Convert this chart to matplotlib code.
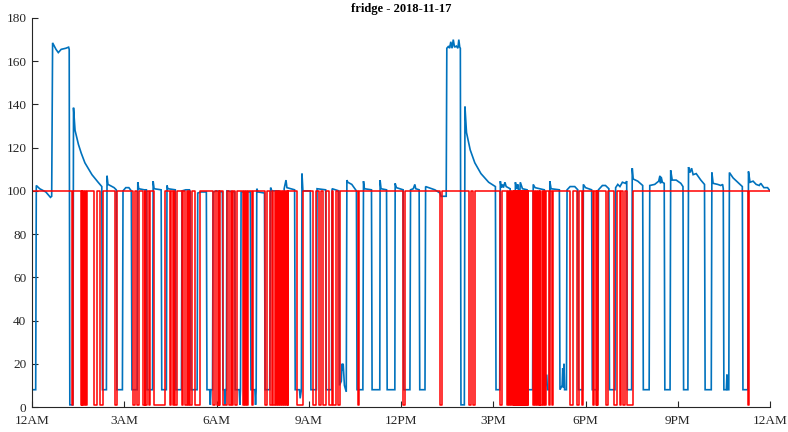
import matplotlib
matplotlib.use("Agg")
import matplotlib.pyplot as plt

# ---- data (hours of day, watts) ----
blue_points = [
    (0.00, 8), (0.12, 8),
    (0.14, 102.5), (0.25, 101), (0.45, 99.5), (0.60, 97), (0.64, 97.5),
    (0.67, 168.5), (0.78, 165.5), (0.855, 164), (0.95, 165.5), (1.10, 166), (1.19, 166.5), (1.21, 165.5),
    (1.23, 1), (1.33, 1),
    (1.35, 138.5), (1.40, 128), (1.51, 121.5), (1.60, 117.5), (1.72, 113), (1.95, 107.5), (2.15, 104), (2.27, 102),
    (2.29, 8), (2.42, 8),
    (2.44, 107), (2.47, 103), (2.54, 102.5), (2.67, 101.5), (2.74, 100.5),
    (2.76, 8), (2.94, 8),
    (2.96, 100), (3.05, 101.5), (3.15, 101.5), (3.23, 100),
    (3.25, 8), (3.42, 8),
    (3.44, 104), (3.47, 101), (3.65, 100.5), (3.72, 100.5),
    (3.74, 8), (3.92, 8),
    (3.94, 104.5), (3.97, 101), (4.20, 100.5),
    (4.22, 8), (4.37, 8),
    (4.39, 102.5), (4.42, 101), (4.66, 100.5),
    (4.68, 8), (4.86, 8),
    (4.88, 100), (5.00, 100.5), (5.12, 100.5), (5.15, 99.5),
    (5.17, 8), (5.37, 8),
    (5.39, 99), (5.50, 99.5), (5.67, 99.5),
    (5.69, 8), (5.78, 8), (5.80, 1), (5.82, 8), (5.87, 8),
    (5.89, 99.5), (6.00, 100), (6.19, 99.5),
    (6.21, 8), (6.26, 8), (6.28, 1), (6.30, 8), (6.32, 8),
    (6.34, 100), (6.59, 99.5),
    (6.61, 8), (6.74, 8), (6.76, 1), (6.78, 8),
    (6.80, 99.5), (7.10, 99.5),
    (7.12, 8), (7.25, 8), (7.27, 1), (7.29, 8),
    (7.31, 101), (7.35, 99.5), (7.56, 99),
    (7.58, 8), (7.73, 8),
    (7.76, 101.5), (7.80, 100), (8.03, 100),
    (8.05, 8), (8.14, 8), (8.16, 4), (8.18, 8),
    (8.20, 101), (8.26, 105), (8.29, 101.5), (8.54, 100.5),
    (8.56, 8), (8.70, 8), (8.72, 4), (8.76, 8),
    (8.78, 108), (8.81, 100), (9.05, 100),
    (9.07, 8), (9.25, 8),
    (9.27, 101), (9.55, 100.5),
    (9.57, 8), (9.74, 8),
    (9.76, 101), (9.98, 100),
    (10.00, 10), (10.06, 12), (10.08, 20), (10.10, 17), (10.12, 20), (10.16, 10), (10.22, 7),
    (10.24, 105), (10.27, 104), (10.40, 103), (10.50, 101), (10.55, 100),
    (10.57, 8), (10.76, 8),
    (10.78, 104.5), (10.81, 101), (11.04, 100.5),
    (11.06, 8), (11.31, 8),
    (11.32, 105), (11.35, 101), (11.53, 100.5),
    (11.55, 8), (11.80, 8),
    (11.81, 103.5), (11.85, 101.5), (12.07, 100.5),
    (12.09, 8), (12.29, 8),
    (12.31, 100.5), (12.40, 101), (12.45, 103), (12.48, 101), (12.59, 100.5),
    (12.61, 8), (12.78, 8),
    (12.80, 102), (12.90, 101.5), (13.10, 100.5), (13.27, 99), (13.30, 97.5), (13.47, 97.5),
    (13.49, 166), (13.55, 167), (13.58, 166), (13.62, 169), (13.66, 166), (13.70, 170), (13.74, 166.5),
    (13.80, 167), (13.85, 166), (13.88, 170), (13.91, 166.5), (13.93, 166),
    (13.95, 1), (14.06, 1),
    (14.08, 139), (14.13, 127), (14.25, 119), (14.40, 113), (14.60, 108), (14.85, 104), (15.07, 102),
    (15.09, 8), (15.21, 8),
    (15.23, 104.5), (15.26, 101.5), (15.30, 103), (15.33, 101.5), (15.38, 104), (15.42, 102), (15.55, 101),
    (15.57, 8), (15.70, 8),
    (15.72, 104), (15.76, 101), (15.80, 103), (15.85, 95), (15.88, 104), (15.95, 101), (16.10, 100.5),
    (16.12, 8), (16.28, 8),
    (16.30, 103), (16.36, 101.5), (16.66, 100.5),
    (16.68, 8), (16.74, 15), (16.76, 8), (16.82, 8),
    (16.84, 104.5), (16.88, 101), (17.15, 100.5),
    (17.17, 8), (17.24, 10), (17.26, 18), (17.28, 9), (17.30, 20), (17.32, 8), (17.38, 8),
    (17.40, 100.5), (17.50, 102), (17.65, 102), (17.75, 100.5),
    (17.77, 8), (17.91, 8),
    (17.93, 103), (18.00, 101.5), (18.20, 100.5),
    (18.22, 8), (18.40, 8),
    (18.42, 100.5), (18.55, 102.5), (18.65, 102.5), (18.76, 101),
    (18.78, 8), (18.96, 8),
    (18.98, 101.5), (19.05, 103), (19.12, 102), (19.20, 104), (19.30, 103.5), (19.34, 104.5),
    (19.36, 8), (19.50, 8),
    (19.52, 110.5), (19.55, 105.5), (19.70, 104.5), (19.86, 102.5),
    (19.88, 8), (20.07, 8),
    (20.09, 102.5), (20.25, 103), (20.38, 104.5), (20.42, 107), (20.44, 103.5), (20.46, 106.5), (20.50, 104), (20.56, 103.5),
    (20.58, 8), (20.75, 8),
    (20.77, 109.5), (20.82, 105), (20.95, 105), (21.10, 103.5), (21.17, 102),
    (21.19, 8), (21.33, 8),
    (21.35, 111), (21.40, 108.5), (21.45, 110.5), (21.50, 107.5), (21.60, 108), (21.75, 105), (21.87, 103),
    (21.89, 8), (22.09, 8),
    (22.11, 108.5), (22.15, 103.5), (22.30, 103), (22.40, 102.5), (22.46, 103), (22.48, 101),
    (22.50, 8), (22.58, 8), (22.60, 15), (22.62, 8), (22.66, 8),
    (22.68, 108.5), (22.80, 106), (22.95, 104), (23.10, 102),
    (23.12, 8), (23.28, 8),
    (23.30, 109), (23.35, 104), (23.45, 104.5), (23.55, 103), (23.65, 102.5), (23.70, 103.5),
    (23.80, 101.5), (23.92, 101.5), (24.00, 100),
]
blue_hours = [p[0] for p in blue_points]
blue_watts = [p[1] for p in blue_points]

red_high = 100
red_low = 1
red_off_intervals = [
    (1.29, 1.34),
    (1.59, 1.62), (1.64, 1.67), (1.70, 1.72), (1.76, 1.79),
    (2.03, 2.10), (2.21, 2.30), (2.70, 2.77),
    (3.28, 3.35), (3.42, 3.49), (3.62, 3.66), (3.69, 3.73), (3.79, 3.84),
    (3.97, 4.33),
    (4.49, 4.53), (4.58, 4.62), (4.66, 4.70),
    (4.87, 4.92), (4.98, 5.03), (5.08, 5.12), (5.15, 5.19),
    (5.30, 5.46),
    (5.90, 5.95), (6.02, 6.07), (6.09, 6.12),
    (6.22, 6.33), (6.42, 6.46), (6.50, 6.55), (6.60, 6.68),
    (6.85, 6.89), (6.93, 6.97), (7.00, 7.04), (7.14, 7.20),
    (7.58, 7.63), (7.74, 7.79), (7.85, 7.90), (7.92, 7.96),
    (8.01, 8.04), (8.07, 8.10), (8.13, 8.16), (8.19, 8.22), (8.25, 8.28), (8.31, 8.34),
    (8.63, 8.80),
    (9.15, 9.24), (9.34, 9.40), (9.47, 9.56), (9.67, 9.75), (9.80, 9.89), (9.96, 10.02),
    (10.60, 10.62),
    (12.05, 12.13), (13.27, 13.32),
    (14.21, 14.27), (14.35, 14.42), (15.22, 15.27),
    (15.44, 15.47), (15.51, 15.54), (15.57, 15.60), (15.63, 15.66),
    (15.68, 15.70), (15.72, 15.74), (15.76, 15.78), (15.80, 15.82), (15.84, 15.86),
    (15.88, 15.90), (15.92, 15.94), (15.96, 15.98), (16.00, 16.02), (16.04, 16.06),
    (16.08, 16.10), (16.12, 16.14),
    (16.30, 16.33), (16.36, 16.39), (16.42, 16.45), (16.48, 16.51), (16.53, 16.57),
    (16.63, 16.66), (16.69, 16.72), (16.82, 16.86), (16.90, 16.95),
    (17.50, 17.58), (17.71, 17.80), (17.88, 17.93),
    (18.25, 18.29), (18.33, 18.36), (18.39, 18.42),
    (18.67, 18.74), (18.93, 19.01), (19.12, 19.17), (19.23, 19.28),
    (19.36, 19.53),
    (23.28, 23.31),
]

tick_hours = [0, 3, 6, 9, 12, 15, 18, 21, 24]
tick_labels = ["12AM", "3AM", "6AM", "9AM", "12PM", "3PM", "6PM", "9PM", "12AM"]
y_ticks = [0, 20, 40, 60, 80, 100, 120, 140, 160, 180]
title_text = "fridge - 2018-11-17"

# build red step line from the intervals
red_x = [0.0]
red_y = [red_high]
for s, e in red_off_intervals:
    red_x += [s, s, e, e]
    red_y += [red_high, red_low, red_low, red_high]
red_x.append(24.0)
red_y.append(red_high)

plt.rcParams['font.family'] = ['Liberation Serif', 'DejaVu Serif']

fig = plt.figure(figsize=(7.88, 4.32), dpi=100)
ax = fig.add_axes([32/788, 1-407/432, (770-32)/788, (407-18)/432])

ax.plot(blue_hours, blue_watts, color='#0072BD', lw=1.2, solid_joinstyle='miter')
ax.plot(red_x, red_y, color='#FF0000', lw=1.1)

ax.set_xlim(0, 24)
ax.set_ylim(0, 180)
ax.set_xticks(tick_hours)
ax.set_xticklabels(tick_labels)
ax.set_yticks(y_ticks)
for side in ['top', 'right']:
    ax.spines[side].set_visible(False)
for side in ['left', 'bottom']:
    ax.spines[side].set_color('#262626')
    ax.spines[side].set_linewidth(0.8)
ax.tick_params(direction='in', length=4, width=0.8, colors='#262626',
               labelsize=9.5, labelcolor='#262626')
ax.tick_params(axis='x', pad=6)
ax.tick_params(axis='y', pad=4)
ax.set_title(title_text, fontsize=9, fontweight='bold', pad=4)

fig.savefig('out.png', dpi=100)
